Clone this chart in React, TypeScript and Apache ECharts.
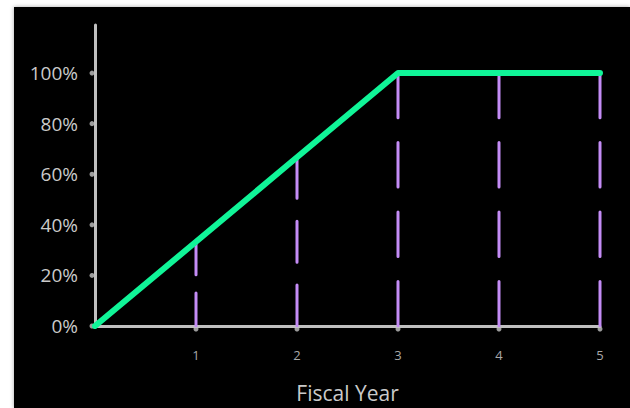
import React, { useEffect, useRef } from "react";
import * as echarts from "echarts";

// Vesting schedule: share vested at the end of each fiscal year
const fiscalYears = [0, 1, 2, 3, 4, 5];
const vestedShare = [0, 0.333, 0.667, 1, 1, 1];
const yTicks = [0, 0.2, 0.4, 0.6, 0.8, 1.0];
const xTicks = [1, 2, 3, 4, 5];
const xAxisTitle = "Fiscal Year";

const AXIS_GREY = "#c0c0c0";
const LABEL_GREY = "#cacaca";
const GREEN = "#10f598";
const PURPLE = "#c48cf6";
const FONT = "'Open Sans', 'Noto Sans', sans-serif";

const Y_MAX = 1.19;
const GRID = { left: 81, top: 18, width: 505, height: 301 };
const PX_PER_UNIT = GRID.height / Y_MAX;

// dash pattern stretched so each drop line starts and ends on a dash
function fittedDash(lengthPx: number): number[] {
  const dash = 43;
  const gap = 24;
  const n = Math.max(1, Math.round((lengthPx + gap) / (dash + gap)));
  const k = lengthPx / (n * dash + (n - 1) * gap);
  return [dash * k, gap * k];
}

export default function App() {
  const ref = useRef<HTMLDivElement>(null);

  useEffect(() => {
    if (!ref.current) return;
    const chart = echarts.init(ref.current, undefined, { renderer: "svg" });

    // one dashed drop line per year, from the curve down to the axis
    const dropLines = fiscalYears
      .map((year, i) => ({ year, value: vestedShare[i] }))
      .filter((p) => p.year > 0)
      .map((p) => ({
        type: "line" as const,
        data: [
          [p.year, p.value],
          [p.year, 0],
        ],
        symbol: "none",
        silent: true,
        z: 2,
        lineStyle: {
          color: PURPLE,
          width: 3,
          type: fittedDash(p.value * PX_PER_UNIT),
          cap: "round" as const,
        },
      }));

    // small round tick marks just outside each axis
    const tickDots = (data: number[][], offset: number[]) => ({
      type: "scatter" as const,
      data,
      symbol: "circle",
      symbolSize: 5,
      symbolOffset: offset,
      clip: false,
      silent: true,
      z: 1,
      itemStyle: { color: "#c4c4c4" },
    });

    chart.setOption({
      animation: false,
      backgroundColor: "#000",
      grid: { ...GRID, containLabel: false },
      xAxis: {
        type: "value",
        min: 0,
        max: 5,
        interval: 1,
        name: xAxisTitle,
        nameLocation: "middle",
        nameGap: 56,
        nameTextStyle: { color: LABEL_GREY, fontSize: 21, fontFamily: FONT },
        axisLine: { show: true, lineStyle: { color: AXIS_GREY, width: 3, cap: "round" } },
        axisTick: { show: false },
        axisLabel: {
          color: "#a8a8a8",
          fontSize: 13,
          fontFamily: FONT,
          margin: 22,
          customValues: xTicks,
        },
        splitLine: { show: false },
      },
      yAxis: {
        type: "value",
        min: 0,
        max: Y_MAX,
        axisLine: { show: true, lineStyle: { color: AXIS_GREY, width: 3, cap: "round" } },
        axisTick: { show: false },
        axisLabel: {
          color: LABEL_GREY,
          fontSize: 19,
          fontFamily: FONT,
          margin: 17,
          customValues: yTicks,
          formatter: (v: number) => `${Math.round(v * 100)}%`,
        },
        splitLine: { show: false },
      },
      series: [
        tickDots(yTicks.map((v) => [0, v]), [-3, 0]),
        tickDots(xTicks.map((v) => [v, 0]), [0, 3]),
        ...dropLines,
        {
          type: "line",
          data: fiscalYears.map((x, i) => [x, vestedShare[i]]),
          symbol: "none",
          z: 5,
          lineStyle: { color: GREEN, width: 6, cap: "round", join: "round" },
        },
      ],
    });

    return () => chart.dispose();
  }, []);

  return (
    <div
      style={{
        position: "fixed",
        left: 0,
        top: 0,
        width: 630,
        height: 408,
        background: "#ffffff",
        overflow: "hidden",
      }}
    >
      <div
        style={{
          position: "absolute",
          left: 14,
          top: 7,
          width: 616,
          height: 401,
          boxShadow: "0 0 4px rgba(0,0,0,0.35)",
        }}
      >
        <div ref={ref} style={{ width: 616, height: 401 }} />
      </div>
    </div>
  );
}
